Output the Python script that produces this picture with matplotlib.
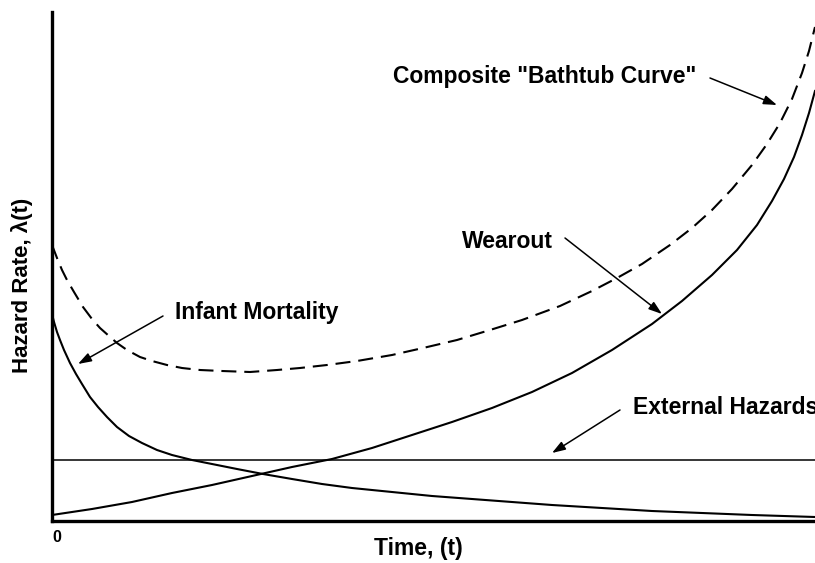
import matplotlib
matplotlib.use("Agg")
import matplotlib.pyplot as plt

plt.rcParams['font.family'] = ['Liberation Sans', 'DejaVu Sans']
plt.rcParams['font.weight'] = 'bold'

# curves (time units, hazard units)
t_infant = [0, 2, 5, 8, 12, 18, 24, 30, 38, 46, 55, 65, 77, 90, 105, 120, 140, 160,
            185, 211, 240, 270, 300, 340, 380, 420, 460, 500, 550, 600, 650, 700, 763]
h_infant = [207, 199, 189, 181, 171, 158, 147, 137, 124, 114, 104, 94, 85, 78, 71, 66, 61, 57,
            52, 47, 42, 37, 33, 29, 25, 22, 19, 16, 13, 10, 8, 6, 4]

t_wear = [0, 40, 80, 120, 160, 200, 240, 280, 320, 360, 400, 440, 480, 520, 560,
          600, 630, 660, 685, 705, 720, 732, 742, 750, 757, 763]
h_wear = [6, 12, 19, 28, 36, 45, 54, 62, 73, 86, 99, 113, 129, 148, 171,
          197, 220, 246, 271, 296, 320, 342, 364, 386, 408, 430]

t_comp = [0, 5, 10, 15, 22, 31, 40, 48, 57, 65, 75, 88, 100, 115, 130, 148, 170, 198,
          225, 248, 275, 305, 340, 371, 405, 438, 470, 508, 540, 565, 590, 618, 640,
          660, 680, 700, 715, 728, 740, 750, 757, 763]
h_comp = [276, 263, 251, 241, 229, 214, 202, 193, 185, 178, 171, 164, 160, 156, 153, 151, 150, 149,
          151, 153, 156, 160, 166, 173, 181, 191, 201, 215, 230, 243, 257, 276, 293,
          311, 332, 356, 377, 398, 422, 448, 470, 494]

t_ext = [0, 763]
h_ext = [61, 61]

fig = plt.figure(figsize=(8.15, 5.63), dpi=100)
ax = fig.add_axes([52/815, 42/563, 763/815, 509/563])

ax.plot(t_infant, h_infant, color='black', lw=1.5)
ax.plot(t_wear, h_wear, color='black', lw=1.5)
ax.plot(t_ext, h_ext, color='black', lw=1.1)
ax.plot(t_comp, h_comp, color='black', lw=1.5, ls=(0, (7.2, 3.8)))

ax.set_xlim(0, 763)
ax.set_ylim(0, 509)
ax.spines['top'].set_visible(False)
ax.spines['right'].set_visible(False)
ax.spines['left'].set_linewidth(2.4)
ax.spines['bottom'].set_linewidth(2.4)
ax.set_xticks([])
ax.set_yticks([])

arrow = dict(arrowstyle='-|>,head_length=0.5,head_width=0.17', lw=1.1, color='black',
             mutation_scale=16, shrinkA=0, shrinkB=0)
fs = 16.5
ax.annotate('', xy=(26, 157), xytext=(111, 205), arrowprops=arrow)
ax.text(123, 208, 'Infant Mortality', fontsize=fs, ha='left', va='center')
ax.annotate('', xy=(610, 207), xytext=(513, 283), arrowprops=arrow)
ax.text(410, 280, 'Wearout', fontsize=fs, ha='left', va='center')
ax.annotate('', xy=(725, 416), xytext=(658, 443), arrowprops=arrow)
ax.text(341, 445, 'Composite "Bathtub Curve"', fontsize=fs, ha='left', va='center')
ax.annotate('', xy=(500, 68), xytext=(568, 111), arrowprops=arrow)
# cut at the right edge, as in the original
ax.text(581, 113, 'External Hazards', fontsize=fs, ha='left', va='center', clip_on=False)

ax.text(5, -16, '0', fontsize=11.5, ha='center', va='center', clip_on=False)
ax.text(366, -27, 'Time, (t)', fontsize=fs, ha='center', va='center', clip_on=False)
ax.text(-30, 236, 'Hazard Rate, λ(t)', fontsize=16, ha='center', va='center',
        rotation=90, clip_on=False)

fig.savefig('out.png', dpi=100)
